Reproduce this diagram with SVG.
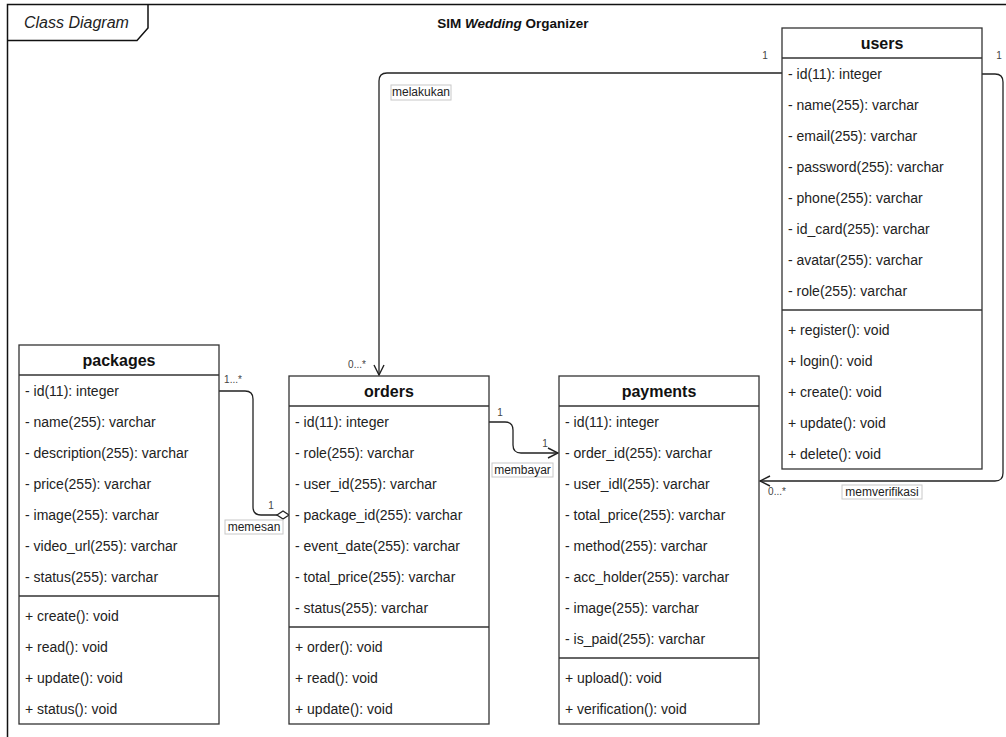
<svg xmlns="http://www.w3.org/2000/svg" width="1006" height="737" viewBox="0 0 1006 737">
<defs>
<style>
.box{fill:#fff;stroke:#333;stroke-width:1.3}
.ln{stroke:#333;stroke-width:1.3;fill:none}
.hd{font-family:"Liberation Sans",Arial,sans-serif;font-size:16px;font-weight:bold;fill:#111;text-anchor:middle}
.at{font-family:"Liberation Sans",Arial,sans-serif;font-size:14px;fill:#222}
.cn{stroke:#222;stroke-width:1.3;fill:none}
.mul{font-family:"Liberation Sans",Arial,sans-serif;font-size:10px;fill:#444;text-anchor:middle}
.lbl{font-family:"Liberation Sans",Arial,sans-serif;font-size:12px;fill:#222;text-anchor:middle}
.lb{fill:#fff;stroke:#c8c8c8;stroke-width:1}
</style>
<marker id="open" viewBox="0 0 12 12" refX="11" refY="6" markerWidth="12" markerHeight="12" markerUnits="userSpaceOnUse" orient="auto">
<path d="M1,1 L11,6 L1,11" fill="none" stroke="#222" stroke-width="1.4"/>
</marker>
</defs>
<rect width="1006" height="737" fill="#fff"/>
<g id="frame">
<rect x="7.5" y="4.5" width="1010" height="745" fill="none" stroke="#111" stroke-width="1.5"/>
<path d="M7.5,40.5 H137 L148,28 V4.5" fill="none" stroke="#111" stroke-width="1.5"/>
<text x="24" y="28" font-family="'Liberation Sans',Arial,sans-serif" font-size="16" font-style="italic" fill="#222">Class Diagram</text>
<text x="513" y="28" font-family="'Liberation Sans',Arial,sans-serif" font-size="13.5" font-weight="bold" fill="#111" text-anchor="middle">SIM <tspan font-style="italic">Wedding</tspan> Organizer</text>
</g>
<g id="connectors">
<path class="cn" d="M782,73 H387 Q379,73 379,81 V375" marker-end="url(#open)"/>
<path class="cn" d="M219,391 H245 Q253,391 253,399 V507 Q253,515 261,515 H277"/>
<polygon points="277,515 283,511 289,515 283,519" fill="#fff" stroke="#222" stroke-width="1.3"/>
<path class="cn" d="M489,422 H505 Q513,422 513,430 V445 Q513,453 521,453 H558" marker-end="url(#open)"/>
<path class="cn" d="M982,74 H995 Q1003,74 1003,82 V473 Q1003,481 995,481 H760" marker-end="url(#open)"/>
<text class="mul" x="765" y="59">1</text>
<text class="mul" x="999" y="59">1</text>
<text class="mul" x="357" y="368">0...*</text>
<rect class="lb" x="391" y="85" width="60" height="15"/>
<text class="lbl" x="421" y="96">melakukan</text>
<text class="mul" x="233" y="383" font-size="9">1...*</text>
<text class="mul" x="271" y="509">1</text>
<rect class="lb" x="225" y="520" width="58" height="14"/>
<text class="lbl" x="254" y="531">memesan</text>
<text class="mul" x="500" y="416">1</text>
<text class="mul" x="545" y="447">1</text>
<rect class="lb" x="492" y="463" width="61" height="14"/>
<text class="lbl" x="522.5" y="474">membayar</text>
<text class="mul" x="777" y="495">0...*</text>
<rect class="lb" x="842" y="485" width="80" height="14"/>
<text class="lbl" x="882" y="496">memverifikasi</text>
</g>
<g id="users">
<rect class="box" x="782" y="28" width="200" height="441"/>
<line class="ln" x1="782" y1="58" x2="982" y2="58"/>
<line class="ln" x1="782" y1="310" x2="982" y2="310"/>
<text class="hd" x="882" y="49">users</text>
<text class="at" x="788" y="78.5">- id(11): integer</text>
<text class="at" x="788" y="109.5">- name(255): varchar</text>
<text class="at" x="788" y="140.5">- email(255): varchar</text>
<text class="at" x="788" y="171.5">- password(255): varchar</text>
<text class="at" x="788" y="202.5">- phone(255): varchar</text>
<text class="at" x="788" y="233.5">- id_card(255): varchar</text>
<text class="at" x="788" y="264.5">- avatar(255): varchar</text>
<text class="at" x="788" y="295.5">- role(255): varchar</text>
<text class="at" x="788" y="334.5">+ register(): void</text>
<text class="at" x="788" y="365.5">+ login(): void</text>
<text class="at" x="788" y="396.5">+ create(): void</text>
<text class="at" x="788" y="427.5">+ update(): void</text>
<text class="at" x="788" y="458.5">+ delete(): void</text>
</g>
<g id="packages">
<rect class="box" x="19" y="345" width="200" height="379"/>
<line class="ln" x1="19" y1="375" x2="219" y2="375"/>
<line class="ln" x1="19" y1="596" x2="219" y2="596"/>
<text class="hd" x="119" y="366">packages</text>
<text class="at" x="25" y="395.5">- id(11): integer</text>
<text class="at" x="25" y="426.5">- name(255): varchar</text>
<text class="at" x="25" y="457.5">- description(255): varchar</text>
<text class="at" x="25" y="488.5">- price(255): varchar</text>
<text class="at" x="25" y="519.5">- image(255): varchar</text>
<text class="at" x="25" y="550.5">- video_url(255): varchar</text>
<text class="at" x="25" y="581.5">- status(255): varchar</text>
<text class="at" x="25" y="620.5">+ create(): void</text>
<text class="at" x="25" y="651.5">+ read(): void</text>
<text class="at" x="25" y="682.5">+ update(): void</text>
<text class="at" x="25" y="713.5">+ status(): void</text>
</g>
<g id="orders">
<rect class="box" x="289" y="376" width="200" height="348"/>
<line class="ln" x1="289" y1="406" x2="489" y2="406"/>
<line class="ln" x1="289" y1="627" x2="489" y2="627"/>
<text class="hd" x="389" y="397">orders</text>
<text class="at" x="295" y="426.5">- id(11): integer</text>
<text class="at" x="295" y="457.5">- role(255): varchar</text>
<text class="at" x="295" y="488.5">- user_id(255): varchar</text>
<text class="at" x="295" y="519.5">- package_id(255): varchar</text>
<text class="at" x="295" y="550.5">- event_date(255): varchar</text>
<text class="at" x="295" y="581.5">- total_price(255): varchar</text>
<text class="at" x="295" y="612.5">- status(255): varchar</text>
<text class="at" x="295" y="651.5">+ order(): void</text>
<text class="at" x="295" y="682.5">+ read(): void</text>
<text class="at" x="295" y="713.5">+ update(): void</text>
</g>
<g id="payments">
<rect class="box" x="559" y="376" width="200" height="348"/>
<line class="ln" x1="559" y1="406" x2="759" y2="406"/>
<line class="ln" x1="559" y1="658" x2="759" y2="658"/>
<text class="hd" x="659" y="397">payments</text>
<text class="at" x="565" y="426.5">- id(11): integer</text>
<text class="at" x="565" y="457.5">- order_id(255): varchar</text>
<text class="at" x="565" y="488.5">- user_idl(255): varchar</text>
<text class="at" x="565" y="519.5">- total_price(255): varchar</text>
<text class="at" x="565" y="550.5">- method(255): varchar</text>
<text class="at" x="565" y="581.5">- acc_holder(255): varchar</text>
<text class="at" x="565" y="612.5">- image(255): varchar</text>
<text class="at" x="565" y="643.5">- is_paid(255): varchar</text>
<text class="at" x="565" y="682.5">+ upload(): void</text>
<text class="at" x="565" y="713.5">+ verification(): void</text>
</g>
</svg>
